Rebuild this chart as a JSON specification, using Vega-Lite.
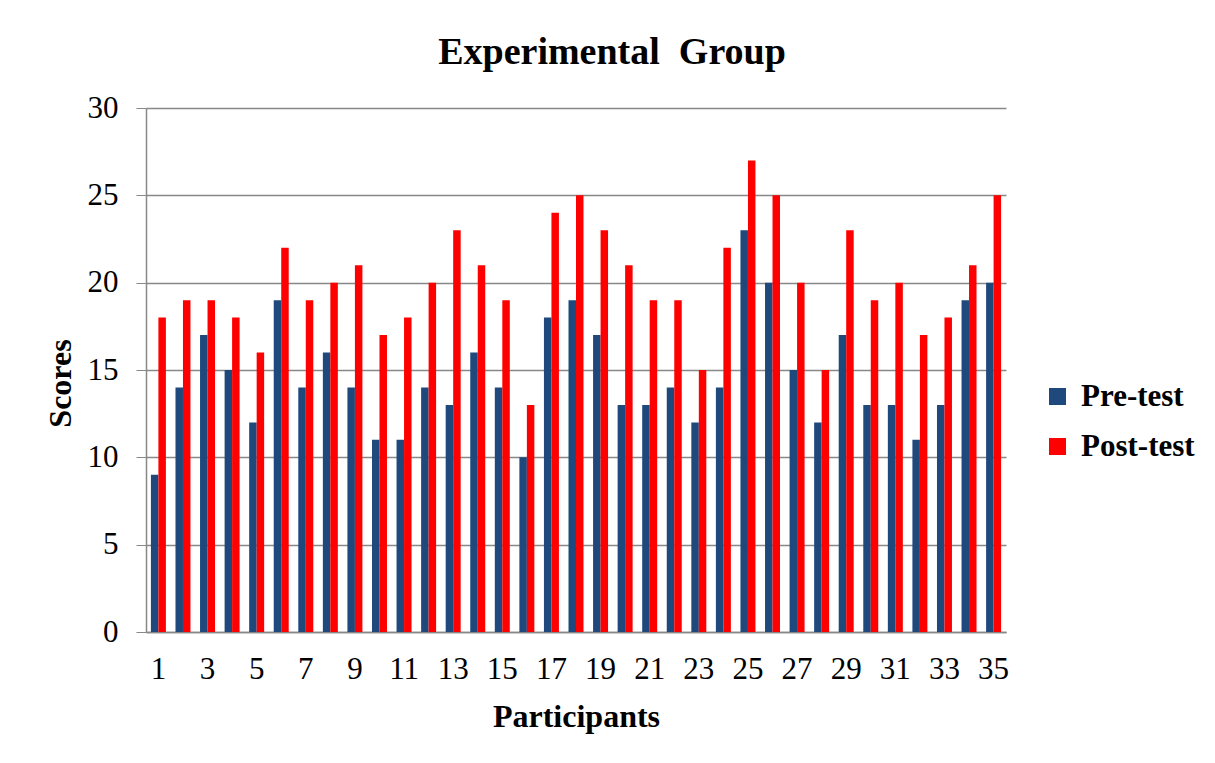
{
  "$schema": "https://vega.github.io/schema/vega-lite/v6.json",
  "autosize": {"type": "none"},
  "width": 860,
  "height": 524,
  "padding": {"left": 146, "top": 108, "right": 209, "bottom": 131},
  "background": "white",
  "config": {
    "font": "Liberation Serif",
    "view": {"stroke": null}
  },
  "title": {
    "text": "Experimental\u00a0 Group",
    "fontSize": 38,
    "fontWeight": "bold",
    "font": "Liberation Serif",
    "color": "black",
    "anchor": "middle",
    "frame": "group",
    "dx": 36,
    "offset": 20
  },
  "datasets": {
    "scores": [
      {"participant": 1, "test": "Pre-test", "score": 9},
      {"participant": 2, "test": "Pre-test", "score": 14},
      {"participant": 3, "test": "Pre-test", "score": 17},
      {"participant": 4, "test": "Pre-test", "score": 15},
      {"participant": 5, "test": "Pre-test", "score": 12},
      {"participant": 6, "test": "Pre-test", "score": 19},
      {"participant": 7, "test": "Pre-test", "score": 14},
      {"participant": 8, "test": "Pre-test", "score": 16},
      {"participant": 9, "test": "Pre-test", "score": 14},
      {"participant": 10, "test": "Pre-test", "score": 11},
      {"participant": 11, "test": "Pre-test", "score": 11},
      {"participant": 12, "test": "Pre-test", "score": 14},
      {"participant": 13, "test": "Pre-test", "score": 13},
      {"participant": 14, "test": "Pre-test", "score": 16},
      {"participant": 15, "test": "Pre-test", "score": 14},
      {"participant": 16, "test": "Pre-test", "score": 10},
      {"participant": 17, "test": "Pre-test", "score": 18},
      {"participant": 18, "test": "Pre-test", "score": 19},
      {"participant": 19, "test": "Pre-test", "score": 17},
      {"participant": 20, "test": "Pre-test", "score": 13},
      {"participant": 21, "test": "Pre-test", "score": 13},
      {"participant": 22, "test": "Pre-test", "score": 14},
      {"participant": 23, "test": "Pre-test", "score": 12},
      {"participant": 24, "test": "Pre-test", "score": 14},
      {"participant": 25, "test": "Pre-test", "score": 23},
      {"participant": 26, "test": "Pre-test", "score": 20},
      {"participant": 27, "test": "Pre-test", "score": 15},
      {"participant": 28, "test": "Pre-test", "score": 12},
      {"participant": 29, "test": "Pre-test", "score": 17},
      {"participant": 30, "test": "Pre-test", "score": 13},
      {"participant": 31, "test": "Pre-test", "score": 13},
      {"participant": 32, "test": "Pre-test", "score": 11},
      {"participant": 33, "test": "Pre-test", "score": 13},
      {"participant": 34, "test": "Pre-test", "score": 19},
      {"participant": 35, "test": "Pre-test", "score": 20},
      {"participant": 1, "test": "Post-test", "score": 18},
      {"participant": 2, "test": "Post-test", "score": 19},
      {"participant": 3, "test": "Post-test", "score": 19},
      {"participant": 4, "test": "Post-test", "score": 18},
      {"participant": 5, "test": "Post-test", "score": 16},
      {"participant": 6, "test": "Post-test", "score": 22},
      {"participant": 7, "test": "Post-test", "score": 19},
      {"participant": 8, "test": "Post-test", "score": 20},
      {"participant": 9, "test": "Post-test", "score": 21},
      {"participant": 10, "test": "Post-test", "score": 17},
      {"participant": 11, "test": "Post-test", "score": 18},
      {"participant": 12, "test": "Post-test", "score": 20},
      {"participant": 13, "test": "Post-test", "score": 23},
      {"participant": 14, "test": "Post-test", "score": 21},
      {"participant": 15, "test": "Post-test", "score": 19},
      {"participant": 16, "test": "Post-test", "score": 13},
      {"participant": 17, "test": "Post-test", "score": 24},
      {"participant": 18, "test": "Post-test", "score": 25},
      {"participant": 19, "test": "Post-test", "score": 23},
      {"participant": 20, "test": "Post-test", "score": 21},
      {"participant": 21, "test": "Post-test", "score": 19},
      {"participant": 22, "test": "Post-test", "score": 19},
      {"participant": 23, "test": "Post-test", "score": 15},
      {"participant": 24, "test": "Post-test", "score": 22},
      {"participant": 25, "test": "Post-test", "score": 27},
      {"participant": 26, "test": "Post-test", "score": 25},
      {"participant": 27, "test": "Post-test", "score": 20},
      {"participant": 28, "test": "Post-test", "score": 15},
      {"participant": 29, "test": "Post-test", "score": 23},
      {"participant": 30, "test": "Post-test", "score": 19},
      {"participant": 31, "test": "Post-test", "score": 20},
      {"participant": 32, "test": "Post-test", "score": 17},
      {"participant": 33, "test": "Post-test", "score": 18},
      {"participant": 34, "test": "Post-test", "score": 21},
      {"participant": 35, "test": "Post-test", "score": 25}
    ]
  },
  "data": {"name": "scores"},
  "mark": {"type": "bar"},
  "encoding": {
    "x": {
      "field": "participant",
      "type": "ordinal",
      "scale": {"paddingInner": 0.39, "paddingOuter": 0.2},
      "axis": {
        "title": "Participants",
        "titleFontSize": 32,
        "titleFontWeight": "bold",
        "titleColor": "black",
        "titlePadding": 17,
        "labelAngle": 0,
        "labelFontSize": 31,
        "labelColor": "black",
        "labelPadding": 22,
        "labelExpr": "datum.value % 2 == 1 ? datum.label : ''",
        "ticks": false,
        "domainColor": "#888888",
        "domainWidth": 1.5,
        "grid": false
      }
    },
    "xOffset": {"field": "test", "type": "nominal", "sort": ["Pre-test", "Post-test"]},
    "y": {
      "field": "score",
      "type": "quantitative",
      "scale": {"domain": [0, 30], "nice": false},
      "axis": {
        "title": "Scores",
        "titleFontSize": 32,
        "titleFontWeight": "bold",
        "titleColor": "black",
        "titlePadding": 10,
        "titleY": 275,
        "values": [0, 5, 10, 15, 20, 25, 30],
        "labelFontSize": 31,
        "labelColor": "black",
        "labelPadding": 18,
        "tickSize": 10,
        "tickColor": "#888888",
        "domainColor": "#888888",
        "domainWidth": 1.5,
        "gridColor": "#888888",
        "gridWidth": 1.5
      }
    },
    "color": {
      "field": "test",
      "type": "nominal",
      "sort": ["Pre-test", "Post-test"],
      "scale": {"domain": ["Pre-test", "Post-test"], "range": ["#1F497D", "#FF0000"]},
      "legend": {
        "title": null,
        "orient": "none",
        "legendX": 896,
        "legendY": 273,
        "symbolType": "square",
        "symbolSize": 289,
        "labelFontSize": 31,
        "labelFontWeight": "bold",
        "labelColor": "black",
        "rowPadding": 18,
        "labelOffset": 8
      }
    }
  }
}
